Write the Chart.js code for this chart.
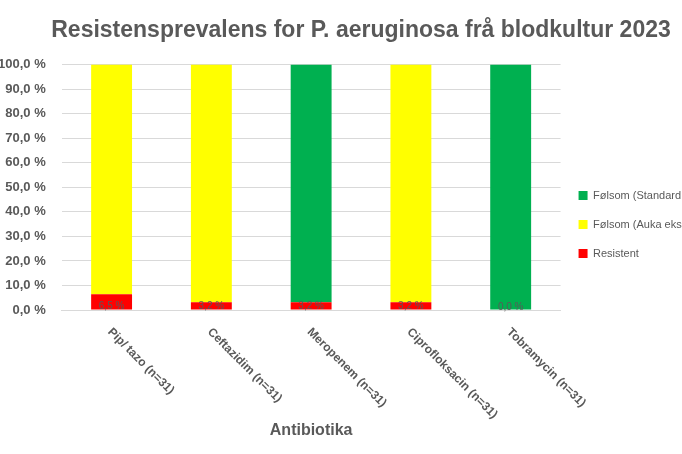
<!DOCTYPE html>
<html><head><meta charset="utf-8">
<script src="https://cdn.jsdelivr.net/npm/chart.js@4"></script>
<style>
html,body{margin:0;padding:0;background:#fff;overflow:hidden;width:682px;height:454px}
#wrap{position:absolute;left:-60px;top:0;width:860px;height:454px}
</style></head><body>
<div id="wrap"><canvas id="c" width="860" height="454"></canvas></div>
<script>
const categories=["Pip/ tazo (n=31)","Ceftazidim (n=31)","Meropenem (n=31)","Ciprofloksacin (n=31)","Tobramycin (n=31)"];
const resistent=[6.5,3.2,3.2,3.2,0.0];
const aukaEksp=[93.5,96.8,0,96.8,0];
const standard=[0,0,96.8,0,100];
const yTicks=[0,10,20,30,40,50,60,70,80,90,100];
const fmt=v=>v.toFixed(1).replace('.',',')+' %';
const F='"Liberation Sans", Arial';
const labelPlugin={id:'lbl',afterDatasetsDraw(chart){
  const ctx=chart.ctx;const meta=chart.getDatasetMeta(0);
  ctx.save();ctx.font='10px '+F;ctx.fillStyle='#595959';ctx.textAlign='center';ctx.textBaseline='bottom';
  meta.data.forEach((b,i)=>{ctx.fillText(fmt(resistent[i]),b.x,b.base+2);});
  ctx.font='bold 12px '+F;ctx.textAlign='left';ctx.textBaseline='middle';
  const y0=chart.chartArea.bottom+20;
  meta.data.forEach((b,i)=>{ctx.save();ctx.translate(b.x-2,y0);ctx.rotate(Math.PI/4);ctx.fillText(categories[i],0,0);ctx.restore();});
  ctx.restore();}};
new Chart(document.getElementById('c'),{type:'bar',
data:{labels:categories,datasets:[
 {label:'Resistent',data:resistent,backgroundColor:'#ff0000'},
 {label:'Følsom (Auka eksponering)',data:aukaEksp,backgroundColor:'#ffff00'},
 {label:'Følsom (Standard dosering)',data:standard,backgroundColor:'#00b050'}]},
options:{responsive:false,animation:false,
 layout:{padding:{left:42,top:5,right:60,bottom:10}},
 datasets:{bar:{barPercentage:0.41,categoryPercentage:1}},
 plugins:{
  title:{display:true,text:'Resistensprevalens for P. aeruginosa frå blodkultur 2023',color:'#595959',font:{family:F,size:23,weight:'bold'},padding:{top:12,bottom:20}},
  legend:{position:'right',reverse:true,labels:{boxWidth:9,boxHeight:9,color:'#595959',font:{family:F,size:11},padding:18}},
  tooltip:{enabled:false}},
 scales:{
  x:{stacked:true,grid:{display:false},border:{color:'#d9d9d9'},
     ticks:{color:'rgba(0,0,0,0)',font:{family:F,size:12,weight:'bold'},maxRotation:45,minRotation:45,autoSkip:false},
     title:{display:true,text:'Antibiotika',color:'#595959',font:{family:F,size:16,weight:'bold'},padding:{top:0}}},
  y:{stacked:true,min:0,max:100,afterBuildTicks(a){a.ticks=yTicks.map(v=>({value:v}));},
     grid:{color:'#d9d9d9',drawTicks:false},border:{display:false},
     ticks:{padding:16,color:'#595959',font:{family:F,size:13,weight:'bold'},callback:v=>fmt(v)}}}},
plugins:[labelPlugin]});
</script></body></html>
